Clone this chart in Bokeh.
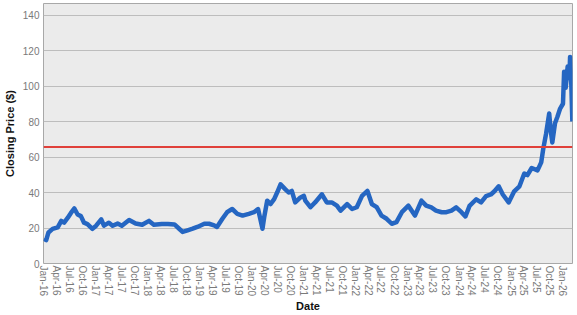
import pandas as pd
from bokeh.plotting import figure
from bokeh.models import Span, Range1d, FixedTicker, DatetimeTickFormatter
from bokeh.embed import file_html
from bokeh.resources import INLINE

dates = [
    "2016-01-04", "2016-01-20", "2016-02-05", "2016-03-05", "2016-04-10", "2016-05-05",
    "2016-05-25", "2016-06-20", "2016-07-12", "2016-08-05", "2016-08-28", "2016-09-20",
    "2016-10-12", "2016-11-05", "2016-12-10", "2017-01-05", "2017-02-10", "2017-03-01",
    "2017-04-05", "2017-05-01", "2017-06-05", "2017-07-05", "2017-08-25", "2017-10-10",
    "2017-11-25", "2018-01-12", "2018-02-15", "2018-04-12", "2018-05-25", "2018-07-10",
    "2018-08-12", "2018-09-05", "2018-10-10", "2018-11-15", "2018-12-18", "2019-02-05",
    "2019-03-10", "2019-04-15", "2019-05-05", "2019-06-12", "2019-07-15", "2019-08-20",
    "2019-09-25", "2019-11-01", "2019-12-15", "2020-01-20", "2020-02-18", "2020-03-20",
    "2020-04-01", "2020-04-22", "2020-05-15", "2020-06-10", "2020-07-01", "2020-07-25",
    "2020-08-28", "2020-09-20", "2020-10-12", "2020-11-05", "2020-12-12", "2021-01-05",
    "2021-01-15", "2021-02-20", "2021-03-25", "2021-05-12", "2021-06-15", "2021-07-20",
    "2021-08-25", "2021-09-20", "2021-11-05", "2021-12-10", "2022-01-12", "2022-02-18",
    "2022-03-28", "2022-04-28", "2022-06-01", "2022-07-05", "2022-08-10", "2022-09-15",
    "2022-10-18", "2022-11-25", "2023-01-10", "2023-02-25", "2023-04-12", "2023-05-15",
    "2023-06-20", "2023-07-23", "2023-09-01", "2023-10-04", "2023-11-09", "2023-12-12",
    "2024-01-18", "2024-02-15", "2024-03-15", "2024-05-01", "2024-06-04", "2024-07-09",
    "2024-08-12", "2024-09-06", "2024-10-06", "2024-11-04", "2024-12-15", "2025-01-23",
    "2025-03-01", "2025-04-04", "2025-04-26", "2025-05-26", "2025-07-06", "2025-08-01",
    "2025-08-15", "2025-09-04", "2025-09-26", "2025-10-06", "2025-10-18", "2025-11-06",
    "2025-11-23", "2025-12-12", "2026-01-01", "2026-01-09", "2026-01-20", "2026-02-03",
    "2026-02-15", "2026-02-20", "2026-03-01", "2026-03-08",
]
closing_price = [
    14.0, 13.2, 17.5, 19.5, 20.4, 24.0,
    23.0, 25.8, 28.5, 31.0, 27.6, 26.7,
    23.0, 22.2, 19.5, 21.3, 24.9, 21.3,
    23.0, 21.3, 22.5, 21.3, 24.5, 22.5,
    21.8, 24.0, 21.8, 22.2, 22.2, 22.0,
    19.6, 17.8, 18.7, 19.6, 20.6, 22.4,
    22.4, 21.5, 20.6, 25.2, 28.9, 30.7,
    28.0, 27.0, 28.0, 28.9, 30.7, 19.6,
    26.1, 35.4, 33.5, 36.3, 40.0, 44.6,
    41.8, 40.0, 40.9, 34.4, 37.2, 38.1,
    35.4, 31.7, 34.4, 39.0, 34.4, 34.4,
    32.6, 29.8, 33.5, 30.7, 31.7, 38.1,
    40.9, 33.5, 31.7, 27.0, 25.2, 22.4,
    23.3, 28.9, 32.6, 27.0, 35.4, 32.6,
    31.6, 29.8, 28.9, 28.9, 29.8, 31.6,
    28.9, 26.5, 32.5, 36.2, 34.4, 38.0,
    38.9, 40.7, 43.5, 38.9, 34.4, 40.7,
    43.5, 50.7, 49.8, 53.8, 52.5, 57.0,
    64.4, 73.0, 84.5, 75.5, 68.2, 79.0,
    82.7, 87.3, 90.0, 108.0, 99.0, 111.0,
    104.5, 116.4, 100.0, 80.0,
]
reference_level = 65.7

tick_dates = pd.date_range("2016-01-01", "2026-01-01", freq="QS")
y_ticks = [0, 20, 40, 60, 80, 100, 120, 140]

x = pd.to_datetime(dates)

p = figure(width=577, height=315, x_axis_type="datetime",
           output_backend="svg", toolbar_location=None,
           x_range=Range1d(pd.Timestamp("2016-01-01"), pd.Timestamp("2026-03-09")),
           y_range=Range1d(0, 146.5),
           min_border_left=40, min_border_right=5, min_border_top=3, min_border_bottom=44)

p.background_fill_color = "#EBEBEB"
p.border_fill_color = "white"
p.outline_line_color = "#A8A8A8"
p.outline_line_width = 1

p.xgrid.grid_line_color = None
p.ygrid.grid_line_color = "#BDBDBD"
p.ygrid.grid_line_width = 1

p.line(x, closing_price, line_color="#2566C2", line_width=4.5, line_join="round")

p.add_layout(Span(location=reference_level, dimension="width",
                  line_color="#E0403A", line_width=2))

font = "Liberation Sans"
p.xaxis.ticker = FixedTicker(ticks=[t.value / 1e6 for t in tick_dates])
fmt = "%b-%y"
p.xaxis.formatter = DatetimeTickFormatter(
    milliseconds=fmt, seconds=fmt, minsec=fmt, minutes=fmt, hourmin=fmt,
    hours=fmt, days=fmt, months=fmt, years=fmt)
p.xaxis.major_label_orientation = "vertical"
p.yaxis.ticker = FixedTicker(ticks=y_ticks)

for ax in (p.xaxis, p.yaxis):
    ax.axis_line_color = None
    ax.major_tick_line_color = None
    ax.minor_tick_line_color = None
    ax.major_tick_out = 0
    ax.major_tick_in = 0
    ax.minor_tick_out = 0
    ax.major_label_text_font = font
    ax.major_label_text_font_size = "10px"
    ax.major_label_text_color = "#7A7A7A"
    ax.axis_label_text_font = font
    ax.axis_label_text_font_size = "11px"
    ax.axis_label_text_font_style = "bold"
    ax.axis_label_text_color = "#111111"

p.xaxis.axis_label = "Date"
p.yaxis.axis_label = "Closing Price ($)"
p.xaxis.major_label_standoff = 2
p.xaxis.axis_label_standoff = 1
p.yaxis.major_label_standoff = 4
p.yaxis.axis_label_standoff = 4

open("out.html", "w").write(file_html(p, INLINE))
